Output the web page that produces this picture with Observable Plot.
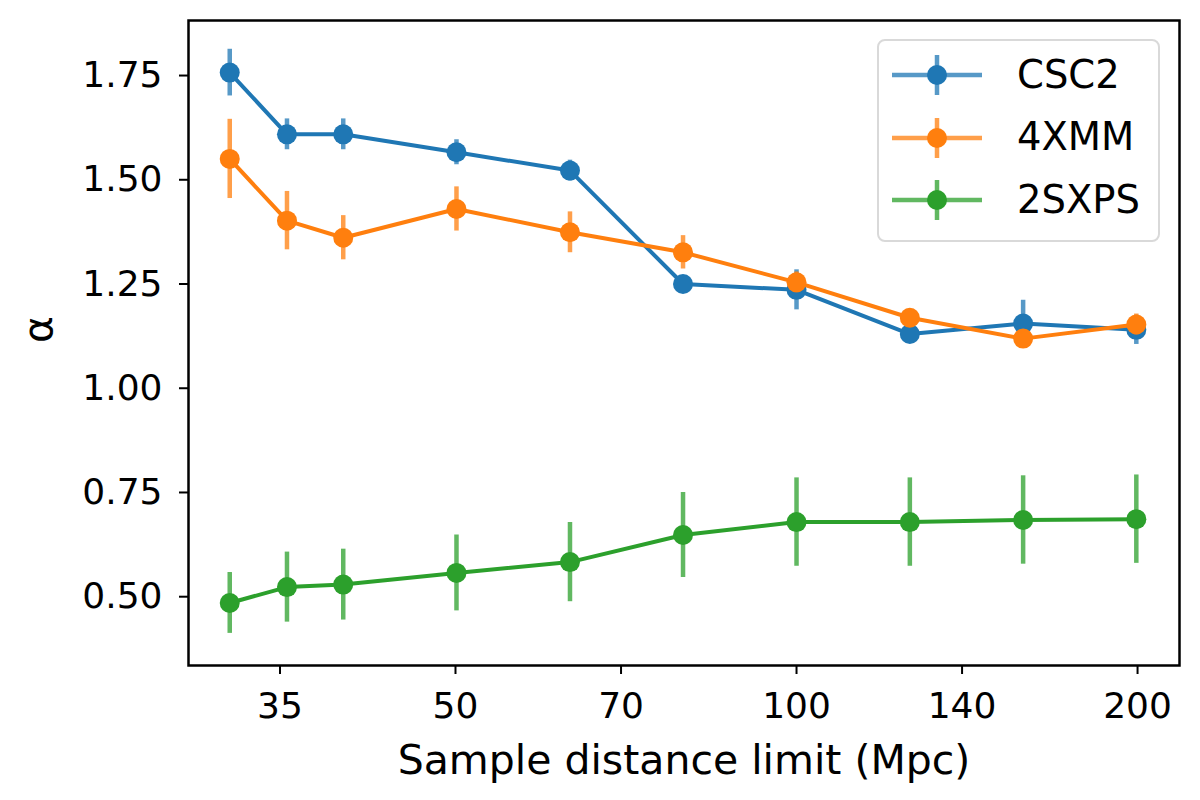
<!DOCTYPE html>
<html lang="en">
<head>
<meta charset="UTF-8">
<title>Alpha vs sample distance limit</title>
<script src="https://cdn.jsdelivr.net/npm/d3@7"></script>
<script src="https://cdn.jsdelivr.net/npm/@observablehq/plot@0.6"></script>
<style>
    body {
        margin: 0;
        background: #fff;
    }

    #wrap {
        position: relative;
        width: 1200px;
        height: 800px;
    }

    #legend {
        position: absolute;
        left: 877px;
        top: 39px;
        width: 279px;
        height: 199px;
        border: 2px solid #d9d9d9;
        border-radius: 8px;
        background: rgba(255, 255, 255, 0.8);
        font-family: "DejaVu Sans", sans-serif;
        font-size: 38.5px;
        color: #000;
    }

    .row {
        position: absolute;
        left: 0;
        height: 50px;
        display: flex;
        align-items: center;
    }

    .row svg {
        margin-left: 13px;
    }

    .row span {
        margin-left: 35px;
        line-height: 1;
    }
</style>
</head>
<body>
<div id="wrap">
    <div id="chart"></div>
    <div id="legend"></div>
</div>

<script>
    // distance limits (Mpc), log-spaced
    const dist = [31.6, 35.5, 39.8, 50.1, 63.1, 79.4, 100, 125.9, 158.5, 199.5];

    const names = ["CSC2", "4XMM", "2SXPS"];
    const colors = ["#1f77b4", "#ff7f0e", "#2ca02c"];

    const csc2 = [1.757, 1.609, 1.609, 1.566, 1.522, 1.250, 1.236, 1.130, 1.155, 1.140];
    const csc2Err = [0.056, 0.037, 0.037, 0.030, 0.025, 0.012, 0.048, 0.020, 0.056, 0.035];

    const xmm = [1.550, 1.402, 1.361, 1.430, 1.374, 1.326, 1.254, 1.169, 1.119, 1.153];
    const xmmErr = [0.095, 0.070, 0.053, 0.053, 0.049, 0.040, 0.025, 0.020, 0.018, 0.025];

    const sxps = [0.485, 0.523, 0.529, 0.557, 0.583, 0.648, 0.679, 0.679, 0.684, 0.686];
    const sxpsErr = [0.073, 0.084, 0.085, 0.091, 0.095, 0.102, 0.106, 0.106, 0.106, 0.106];

    const xTicks = [35, 50, 70, 100, 140, 200];
    const yTicks = [0.50, 0.75, 1.00, 1.25, 1.50, 1.75];

    const values = [csc2, xmm, sxps];
    const errors = [csc2Err, xmmErr, sxpsErr];

    // long table: one row per point
    const rows = [];
    names.forEach((name, i) => {
        dist.forEach((d, j) => {
            rows.push({
                series: name,
                dist: d,
                alpha: values[i][j],
                lo: values[i][j] - errors[i][j],
                hi: values[i][j] + errors[i][j]
            });
        });
    });

    const font = "'DejaVu Sans', sans-serif";

    const marks = [];
    names.forEach(name => {
        const sub = rows.filter(r => r.series === name);
        marks.push(
            Plot.ruleX(sub, { x: "dist", y1: "lo", y2: "hi", stroke: "series", strokeWidth: 4.5, strokeOpacity: 0.75 }),
            Plot.line(sub, { x: "dist", y: "alpha", stroke: "series", strokeWidth: 4 }),
            Plot.dot(sub, { x: "dist", y: "alpha", fill: "series", r: 10 })
        );
    });

    const chart = Plot.plot({
        width: 1200,
        height: 800,
        marginLeft: 188,
        marginRight: 21,
        marginTop: 20,
        marginBottom: 135,
        style: {
            fontFamily: font,
            fontSize: "36px",
            background: "#fff",
            color: "#000"
        },
        x: {
            type: "log",
            domain: [29.06, 217.8]
        },
        y: {
            domain: [0.335, 1.882]
        },
        color: {
            domain: names,
            range: colors
        },
        marks: [
            ...marks,
            Plot.axisX({ ticks: xTicks, tickFormat: d => String(d), tickSize: 9, tickPadding: 18, strokeWidth: 2, label: null }),
            Plot.axisY({ ticks: yTicks, tickFormat: d3.format(".2f"), tickSize: 9, tickPadding: 17, strokeWidth: 2, label: null }),
            Plot.frame({ stroke: "#000", strokeWidth: 2.5 }),
            Plot.text(["Sample distance limit (Mpc)"], { frameAnchor: "bottom", dy: 108, lineAnchor: "bottom", fontSize: 41 }),
            Plot.text(["α"], { frameAnchor: "left", dx: -150, rotate: -90, fontSize: 41 })
        ]
    });

    document.querySelector("#chart").append(chart);

    // legend
    const legend = document.querySelector("#legend");
    names.forEach((name, i) => {
        const row = document.createElement("div");
        row.className = "row";
        row.style.top = (9 + i * 62.5) + "px";
        const c = colors[i];
        row.innerHTML =
            `<svg width="90" height="44" viewBox="0 0 90 44">` +
            `<line x1="0" x2="90" y1="22" y2="22" stroke="${c}" stroke-opacity="0.75" stroke-width="4.5"/>` +
            `<line x1="45" x2="45" y1="2" y2="42" stroke="${c}" stroke-opacity="0.75" stroke-width="4.5"/>` +
            `<circle cx="45" cy="22" r="10" fill="${c}"/>` +
            `</svg><span>${name}</span>`;
        legend.append(row);
    });
</script>
</body>
</html>
